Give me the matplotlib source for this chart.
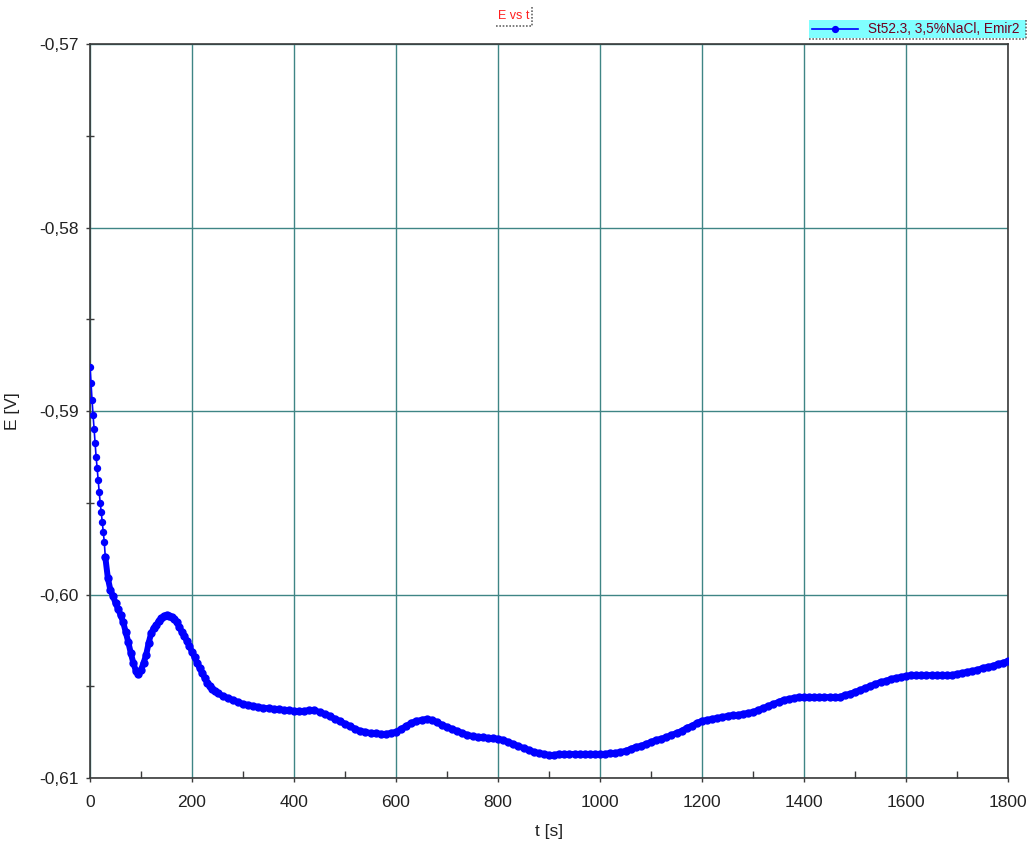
import matplotlib
matplotlib.use("Agg")
import matplotlib.pyplot as plt
from matplotlib.ticker import MultipleLocator, FuncFormatter
from matplotlib.patches import Rectangle
from matplotlib.lines import Line2D

plt.rcParams['font.family'] = ['Liberation Sans', 'DejaVu Sans']

# time [s]
t_early = [0, 2, 4, 6, 8, 10, 12, 14, 16, 18, 20, 22, 24, 26, 28]
E_early = [-0.58760, -0.58847, -0.58940, -0.59022, -0.59098, -0.59174, -0.59251,
           -0.59311, -0.59376, -0.59441, -0.59501, -0.59550, -0.59605, -0.59659, -0.59714]

t_mid = list(range(30, 255, 5))
E_mid = [-0.59796, -0.59910, -0.59976, -0.60008, -0.60046, -0.60079, -0.60112, -0.60150,
         -0.60204, -0.60259, -0.60319, -0.60373, -0.60417, -0.60433, -0.60411, -0.60373,
         -0.60330, -0.60264, -0.60210, -0.60183, -0.60166, -0.60144, -0.60128, -0.60117,
         -0.60112, -0.60117, -0.60123, -0.60134, -0.60150, -0.60177, -0.60204, -0.60226,
         -0.60253, -0.60281, -0.60313, -0.60341, -0.60373, -0.60401, -0.60428, -0.60455,
         -0.60482, -0.60499, -0.60515, -0.60526, -0.60537]

t_late = list(range(260, 1810, 10))
E_late = [
    -0.60553, -0.60564, -0.60575, -0.60586, -0.60597, -0.60602, -0.60608, -0.60613,  # 260-330
    -0.60619, -0.60619, -0.60624, -0.60624, -0.60630, -0.60630, -0.60635, -0.60635,  # 340-410
    -0.60635, -0.60630, -0.60630, -0.60641, -0.60651, -0.60662, -0.60678, -0.60689,  # 420-490
    -0.60706, -0.60717, -0.60733, -0.60744, -0.60749, -0.60755, -0.60755, -0.60760,  # 500-570
    -0.60760, -0.60755, -0.60749, -0.60733, -0.60717, -0.60700, -0.60689, -0.60684,  # 580-650
    -0.60678, -0.60684, -0.60695, -0.60711, -0.60722, -0.60733, -0.60744, -0.60755,  # 660-730
    -0.60766, -0.60771, -0.60777, -0.60777, -0.60782, -0.60782, -0.60787, -0.60793,  # 740-810
    -0.60804, -0.60815, -0.60826, -0.60837, -0.60847, -0.60858, -0.60864, -0.60869,  # 820-890
    -0.60875, -0.60875, -0.60869, -0.60869, -0.60869, -0.60869, -0.60869, -0.60869,  # 900-970
    -0.60869, -0.60869, -0.60869, -0.60869, -0.60864, -0.60864, -0.60858, -0.60853,  # 980-1050
    -0.60842, -0.60831, -0.60826, -0.60815, -0.60804, -0.60793, -0.60787, -0.60777,  # 1060-1130
    -0.60766, -0.60755, -0.60744, -0.60727, -0.60717, -0.60700, -0.60689, -0.60684,  # 1140-1210
    -0.60678, -0.60673, -0.60668, -0.60662, -0.60657, -0.60657, -0.60651, -0.60646,  # 1220-1290
    -0.60641, -0.60630, -0.60619, -0.60608, -0.60597, -0.60586, -0.60575, -0.60570,  # 1300-1370
    -0.60564, -0.60559, -0.60559, -0.60559, -0.60559, -0.60559, -0.60559, -0.60559,  # 1380-1450
    -0.60559, -0.60559, -0.60548, -0.60542, -0.60531, -0.60521, -0.60510, -0.60499,  # 1460-1530
    -0.60488, -0.60477, -0.60472, -0.60461, -0.60455, -0.60450, -0.60444, -0.60439,  # 1540-1610
    -0.60439, -0.60439, -0.60439, -0.60439, -0.60439, -0.60439, -0.60439, -0.60439,  # 1620-1690
    -0.60433, -0.60428, -0.60422, -0.60417, -0.60411, -0.60401, -0.60395, -0.60390,  # 1700-1770
    -0.60379, -0.60373, -0.60362,                                                      # 1780-1800
]

series_label = "St52.3, 3,5%NaCl, Emir2"
title = "E vs t"
xlabel = "t [s]"
ylabel = "E [V]"

W, H = 1033, 848
fig = plt.figure(figsize=(W / 100, H / 100), dpi=100)
ax = fig.add_axes([90 / W, 1 - 778 / H, (1008 - 90) / W, (778 - 44) / H])

line_color = "#0000ff"
# sparse early samples: thin line with distinct markers
ax.plot(t_early + t_mid[:1], E_early + E_mid[:1], color=line_color, lw=1.2, marker="o",
        ms=4.3, mec=line_color, mfc=line_color, zorder=3)
# dense samples afterwards: markers merge into a thick band
t_rest = t_mid + t_late
E_rest = E_mid + E_late
ax.plot(t_rest, E_rest, color=line_color, lw=4.3, marker="o", ms=5.0,
        mec=line_color, mfc=line_color, solid_capstyle="round", solid_joinstyle="round", zorder=3)

ax.set_xlim(0, 1800)
ax.set_ylim(-0.61, -0.57)
ax.xaxis.set_major_locator(MultipleLocator(200))
ax.xaxis.set_minor_locator(MultipleLocator(100))
ax.yaxis.set_major_locator(MultipleLocator(0.01))
ax.yaxis.set_minor_locator(MultipleLocator(0.005))
ax.yaxis.set_major_formatter(FuncFormatter(lambda v, p: f"{v:.2f}".replace(".", ",")))

ax.grid(True, which="major", color="#3f8585", lw=1.0, zorder=1)
ax.set_axisbelow(True)
for s in ax.spines.values():
    s.set_color("#3a3a3a")
    s.set_linewidth(1.2)

ax.tick_params(axis="both", which="major", direction="out", length=3, width=1,
               colors="#3a3a3a", labelsize=12.5, labelcolor="#222222")
ax.tick_params(axis="x", which="minor", direction="in", length=5, width=1, colors="#3a3a3a")
ax.tick_params(axis="y", which="minor", direction="inout", length=6, width=1, colors="#3a3a3a")
ax.tick_params(axis="x", which="major", pad=9)
ax.tick_params(axis="y", which="major", pad=5)

ax.set_xlabel(xlabel, fontsize=12.5, color="#222222", labelpad=10)
ax.set_ylabel(ylabel, fontsize=12.5, color="#222222", labelpad=14)

# title with dotted frame edges
fig.text(514 / W, 1 - 16 / H, title, color="#ff2020", fontsize=9, ha="center", va="center")
fig.lines.append(Line2D([496 / W, 532 / W], [1 - 26 / H, 1 - 26 / H], transform=fig.transFigure,
                        color="#666666", lw=1.2, ls=(0, (1, 1))))
fig.lines.append(Line2D([532 / W, 532 / W], [1 - 7 / H, 1 - 26 / H], transform=fig.transFigure,
                        color="#666666", lw=1.2, ls=(0, (1, 1))))

# legend box
fig.patches.append(Rectangle((809 / W, 1 - 38 / H), 217 / W, 18 / H, transform=fig.transFigure,
                             facecolor="#80ffff", edgecolor="none", zorder=5))
fig.lines.append(Line2D([809 / W, 1026 / W], [1 - 39 / H, 1 - 39 / H], transform=fig.transFigure,
                        color="#666666", lw=1.2, ls=(0, (1, 1)), zorder=6))
fig.lines.append(Line2D([1026 / W, 1026 / W], [1 - 20 / H, 1 - 39 / H], transform=fig.transFigure,
                        color="#666666", lw=1.2, ls=(0, (1, 1)), zorder=6))
fig.lines.append(Line2D([812 / W, 858 / W], [1 - 29 / H, 1 - 29 / H], transform=fig.transFigure,
                        color=line_color, lw=1.2, zorder=6))
fig.lines.append(Line2D([835 / W], [1 - 29 / H], transform=fig.transFigure, color=line_color,
                        marker="o", ms=4.2, zorder=6))
fig.text(868 / W, 1 - 29 / H, series_label, color="#700020", fontsize=9.8, ha="left", va="center", zorder=7)

fig.savefig("out.png", dpi=100)
